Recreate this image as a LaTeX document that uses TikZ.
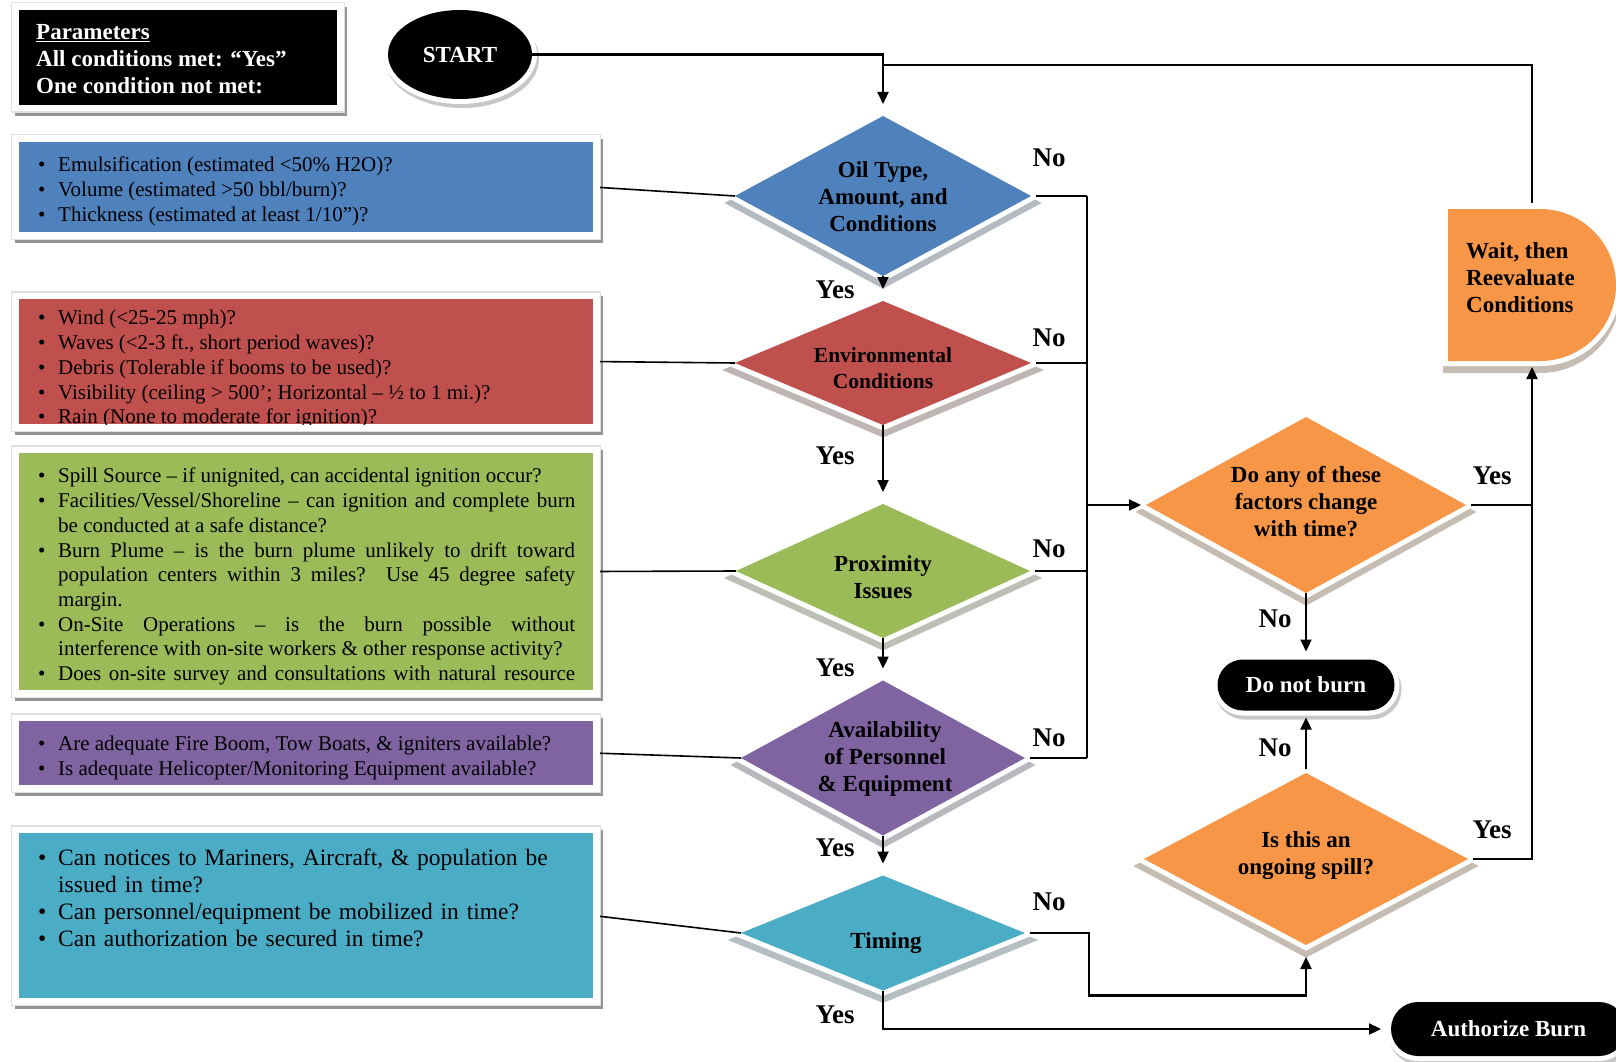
\documentclass[tikz,border=0pt]{standalone}
\usepackage{fontspec}
\setmainfont{Liberation Serif}
\usetikzlibrary{shapes.geometric,arrows.meta}

\definecolor{cBlue}{HTML}{4F81BD}
\definecolor{cRed}{HTML}{C0504D}
\definecolor{cGreen}{HTML}{9BBB59}
\definecolor{cPurple}{HTML}{8064A2}
\definecolor{cCyan}{HTML}{4BACC6}
\definecolor{cOrange}{HTML}{F79646}

% bullet item with hanging indent
\newcommand{\bul}[1]{\par\hangindent=20pt\hangafter=1\noindent\hbox to 20pt{\textbullet\hfil}#1}

\tikzset{
  decision/.style={shape=diamond, inner sep=0pt, outer sep=0pt, fill=#1,
    preaction={fill=#1!30!black!32, draw=#1!30!black!32, line width=10pt,
               transform canvas={yshift=-7pt}},
    preaction={draw=white, line width=10pt}},
  infobox/.style={rectangle, inner sep=0pt, outer sep=0pt, fill=#1,
    preaction={fill=black!42, draw=black!42, line width=14pt,
               transform canvas={xshift=3pt,yshift=-4pt}},
    preaction={draw=black!12, line width=16pt},
    preaction={draw=white, line width=13pt}},
  waitshape/.style={fill=cOrange,
    preaction={fill=cOrange!30!black!32, draw=cOrange!30!black!32, line width=10pt,
               transform canvas={yshift=-7pt}},
    preaction={draw=white, line width=10pt}},
  term/.style={fill=black, text=white, inner sep=0pt, outer sep=0pt,
    font=\bfseries\fontsize{23}{27}\selectfont,
    preaction={fill=black!22, draw=black!22, line width=10pt,
               transform canvas={xshift=2pt,yshift=-4pt}},
    preaction={draw=white, line width=10pt}},
  itext/.style={anchor=north west, inner sep=0pt, text width=537pt, align=justify,
    font=\fontsize{21}{24.7}\selectfont},
  dtext/.style={inner sep=0pt, align=center, font=\bfseries\fontsize{23}{27}\selectfont},
  lab/.style={inner sep=0pt, font=\bfseries\fontsize{27}{30}\selectfont},
  flow/.style={line width=2.2pt, draw=black},
  arr/.style={flow, -{Triangle[length=12pt,width=11pt]}},
  link/.style={line width=1.6pt, draw=black}
}

\begin{document}
\begin{tikzpicture}[x=1pt,y=-1pt]
\fill[white] (0,0) rectangle (1616,1062);
\useasboundingbox (0,0) rectangle (1616,1062);

% ---- legend and start ----
\node[infobox=black, minimum width=318.5, minimum height=95] (params) at (177.75,57.5) {};
\node[anchor=north west, inner sep=0pt, align=left, text=white,
      font=\bfseries\fontsize{23}{27}\selectfont] (paramsText) at (36,24)
  {\underline{Parameters}\\All conditions met: “Yes”\\One condition not met:};
\node[term, ellipse, minimum width=144, minimum height=89] (start) at (460,54.5) {START};

% ---- criteria boxes ----
\node[infobox=cBlue, minimum width=574.5, minimum height=90] (blueBox) at (305.75,187) {};
\node[itext] (blueText) at (38,147)
  {\bul{Emulsification (estimated <50\% H2O)?}%
   \bul{Volume (estimated >50 bbl/burn)?}%
   \bul{Thickness (estimated at least 1/10”)?}};

\node[infobox=cRed, minimum width=574.5, minimum height=125] (redBox) at (305.75,361.5) {};
\begin{scope}
  \clip (18.5,299) rectangle (593,424);
  \node[itext] (redText) at (38,300)
    {\bul{Wind (<25-25 mph)?}%
     \bul{Waves (<2-3 ft., short period waves)?}%
     \bul{Debris (Tolerable if booms to be used)?}%
     \bul{Visibility (ceiling > 500’; Horizontal – ½ to 1 mi.)?}%
     \bul{Rain (None to moderate for ignition)?}};
\end{scope}

\node[infobox=cGreen, minimum width=574.5, minimum height=237] (greenBox) at (305.75,571.5) {};
\node[itext] (greenText) at (38,458)
  {\bul{Spill Source – if unignited, can accidental ignition occur?}%
   \bul{Facilities/Vessel/Shoreline – can ignition and complete burn\linebreak
        be conducted at a safe distance?}%
   \bul{Burn Plume – is the burn plume unlikely to drift toward\linebreak
        population centers within 3 miles? Use 45 degree safety\linebreak margin.}%
   \bul{On-Site Operations – is the burn possible without\linebreak
        interference with on-site workers \& other response activity?}%
   \bul{Does on-site survey and consultations with natural resource\parfillskip=0pt\par}};

\node[infobox=cPurple, minimum width=574.5, minimum height=64] (purpleBox) at (305.75,753) {};
\node[itext] (purpleText) at (38,726)
  {\bul{Are adequate Fire Boom, Tow Boats, \& igniters available?}%
   \bul{Is adequate Helicopter/Monitoring Equipment available?}};

\node[infobox=cCyan, minimum width=574.5, minimum height=165] (cyanBox) at (305.75,915.5) {};
\node[itext, align=left, font=\fontsize{23.5}{27}\selectfont] (cyanText) at (38,838)
  {\bul{Can notices to Mariners, Aircraft, \& population be\linebreak issued in time?}%
   \bul{Can personnel/equipment be mobilized in time?}%
   \bul{Can authorization be secured in time?}};

% ---- decisions ----
\node[decision=cBlue, minimum width=296, minimum height=160] (oil) at (883,196) {};
\node[dtext] (oilText) at (883,197) {Oil Type,\\Amount, and\\Conditions};

\node[decision=cRed, minimum width=296, minimum height=124] (env) at (883,363) {};
\node[dtext, font=\bfseries\fontsize{21.5}{26}\selectfont] (envText) at (883,368) {Environmental\\Conditions};

\node[decision=cGreen, minimum width=294, minimum height=134] (prox) at (883,571) {};
\node[dtext] (proxText) at (883,577) {Proximity\\Issues};

\node[decision=cPurple, minimum width=284, minimum height=155] (avail) at (883,758) {};
\node[dtext] (availText) at (885,759) {Availability\\of Personnel\\\& Equipment};

\node[decision=cCyan, minimum width=284, minimum height=115] (timing) at (883,933) {};
\node[dtext] (timingText) at (886,943) {Timing};

\node[decision=cOrange, minimum width=320, minimum height=176] (doany) at (1306,505) {};
\node[dtext] (doanyText) at (1306,502) {Do any of these\\factors change\\with time?};

\node[decision=cOrange, minimum width=324, minimum height=172] (ongoing) at (1306,859) {};
\node[dtext] (ongoingText) at (1306,856) {Is this an\\ongoing spill?};

% ---- wait box (delay shape) ----
\path[waitshape] (1448,209) -- (1540,209) arc[start angle=-90,end angle=90,radius=76]
  -- (1448,361) -- cycle;
\node[inner sep=0pt, outer sep=0pt, minimum width=168, minimum height=152] (wait) at (1532,285) {};
\node[dtext, align=left, anchor=west] (waitText) at (1466,278) {Wait, then\\Reevaluate\\Conditions};

% ---- terminals ----
\node[term, rounded corners=25.5pt, minimum width=177, minimum height=51] (dnb) at (1306,685) {Do not burn};
\node[term, rounded corners=27pt, minimum width=235, minimum height=54] (auth) at (1508.5,1029) {Authorize Burn};

% ---- links from criteria boxes ----
\draw[link, shorten <=7pt] (blueBox.east) -- (oil.west);
\draw[link, shorten <=7pt] (redBox.east) -- (env.west);
\draw[link, shorten <=7pt] (greenBox.east) -- (prox.west);
\draw[link, shorten <=7pt] (purpleBox.east) -- (avail.west);
\draw[link, shorten <=7pt] (cyanBox.east) -- (timing.west);

% ---- main flow ----
\coordinate (loopJoin) at (883,65);
\coordinate (bus) at (1087,0);
\coordinate (timingLow) at (1089,995.5);

\draw[arr, shorten >=12pt] (start.east) -| (oil.north);
\draw[flow, shorten <=6pt] (wait.north) |- (loopJoin);

\draw[arr, shorten >=12pt] (oil.south) -- (env.north);
\draw[arr, shorten >=12pt] (env.south) -- (prox.north);
\draw[arr, shorten >=12pt] (prox.south) -- (avail.north);
\draw[arr, shorten >=12pt] (avail.south) -- (timing.north);
\draw[arr, shorten >=10pt] (timing.south) |- (auth.west);

\draw[flow, shorten <=5pt] (oil.east) -- (oil.east -| bus);
\draw[flow, shorten <=5pt] (env.east) -- (env.east -| bus);
\draw[flow, shorten <=5pt] (prox.east) -- (prox.east -| bus);
\draw[flow, shorten <=5pt] (avail.east) -- (avail.east -| bus);
\draw[flow] (oil.east -| bus) -- (avail.east -| bus);
\draw[arr, shorten >=5pt] (doany.west -| bus) -- (doany.west);

\draw[arr, shorten <=5pt, shorten >=12pt] (timing.east) -| (timingLow) -| (ongoing.south);

\draw[arr, shorten >=8pt] (doany.south) -- (dnb.north);
\draw[arr, shorten <=4pt, shorten >=7pt] (ongoing.north) -- (dnb.south);
\draw[arr, shorten <=5pt, shorten >=6pt] (doany.east) -| (wait.south);
\draw[flow, shorten <=5pt] (ongoing.east) -| (doany.east -| wait.south);

% ---- answer labels ----
\node[lab] (noOil) at (1049,158) {No};
\node[lab] (noEnv) at (1049,338) {No};
\node[lab] (noProx) at (1049,549) {No};
\node[lab] (noAvail) at (1049,738) {No};
\node[lab] (noTiming) at (1049,902) {No};
\node[lab] (yesOil) at (835,290) {Yes};
\node[lab] (yesEnv) at (835,456) {Yes};
\node[lab] (yesProx) at (835,668) {Yes};
\node[lab] (yesAvail) at (835,848) {Yes};
\node[lab] (yesTiming) at (835,1015) {Yes};
\node[lab] (noChange) at (1275,619) {No};
\node[lab] (noOngoing) at (1275,748) {No};
\node[lab] (yesChange) at (1492,476) {Yes};
\node[lab] (yesOngoing) at (1492,830) {Yes};
\end{tikzpicture}
\end{document}
